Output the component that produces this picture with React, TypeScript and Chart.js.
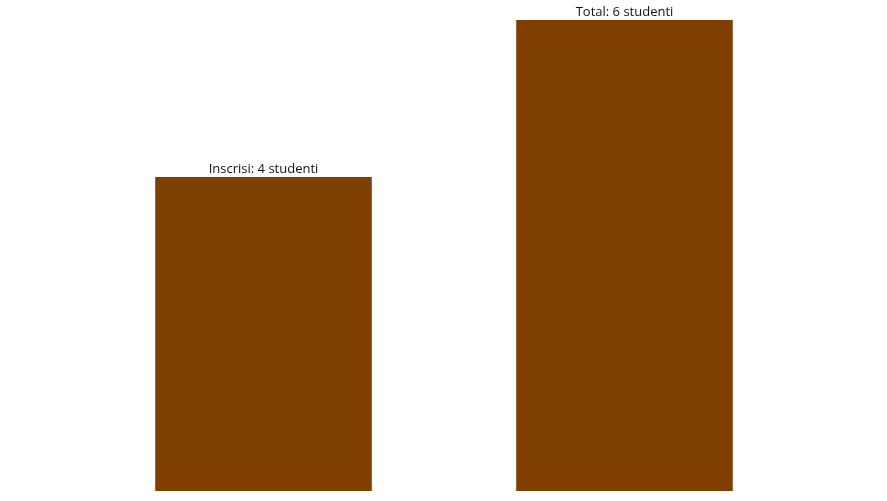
import React, { useEffect, useRef } from "react";
import { Chart, registerables } from "chart.js";

Chart.register(...registerables);

const categories = ["Inscrisi", "Total"];
const values = [4, 6];
const barLabels = ["Inscrisi: 4 studenti", "Total: 6 studenti"];

const labelPlugin = {
  id: "barLabels",
  afterDatasetsDraw(chart: any) {
    const ctx = chart.ctx;
    const meta = chart.getDatasetMeta(0);
    ctx.save();
    ctx.font = "13px 'Open Sans'";
    ctx.fillStyle = "#111";
    ctx.textAlign = "center";
    ctx.textBaseline = "alphabetic";
    meta.data.forEach((bar: any, i: number) => {
      ctx.fillText(barLabels[i], bar.x, bar.y - 4);
    });
    ctx.restore();
  },
};

export default function App() {
  const ref = useRef<HTMLCanvasElement>(null);
  useEffect(() => {
    if (!ref.current) return;
    const chart = new Chart(ref.current, {
      type: "bar",
      data: {
        labels: categories,
        datasets: [
          {
            data: values,
            backgroundColor: "#7f3f00",
            categoryPercentage: 0.8,
            barPercentage: 0.75,
          },
        ],
      },
      options: {
        animation: false,
        responsive: true,
        maintainAspectRatio: false,
        layout: { padding: { left: 83, right: 82, top: 20, bottom: 10 } },
        plugins: { legend: { display: false }, tooltip: { enabled: false } },
        scales: {
          x: { display: false },
          y: { display: false, min: 0, max: 6 },
        },
      },
      plugins: [labelPlugin],
    });
    return () => chart.destroy();
  }, []);
  return (
    <div style={{ position: "fixed", left: 0, top: 0, width: 887, height: 501, background: "#fff" }}>
      <canvas ref={ref} />
    </div>
  );
}
